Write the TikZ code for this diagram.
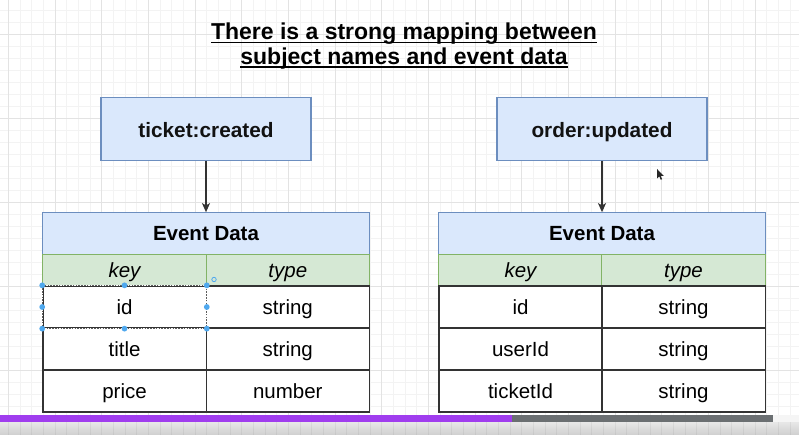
\documentclass[tikz,border=0pt]{standalone}
\usepackage{fontspec}
\setmainfont{Liberation Sans}
\usetikzlibrary{arrows.meta}
\definecolor{bluefill}{HTML}{DAE8FC}
\definecolor{blueline}{HTML}{6C8EBF}
\definecolor{greenfill}{HTML}{D5E8D4}
\definecolor{greenline}{HTML}{82B366}
\definecolor{darkline}{HTML}{333333}
\definecolor{gridminor}{HTML}{F3F3F3}
\definecolor{gridmajor}{HTML}{E3E3E3}
\definecolor{handle}{HTML}{4FA8EE}
\definecolor{barpurple}{HTML}{A03DEE}
\definecolor{bargray}{HTML}{6B6F72}
\definecolor{stripTop}{HTML}{E8E8E8}
\definecolor{stripBot}{HTML}{CFCFCF}
\begin{document}
\begin{tikzpicture}[x=1pt,y=-1pt,
  titletext/.style={inner sep=0pt, font=\fontsize{23}{26}\selectfont\bfseries},
  evbox/.style={draw=blueline, fill=bluefill, line width=1.1pt, minimum width=210pt, minimum height=63pt, inner sep=0pt, text height=16.6pt, text depth=0pt, text=black!93, font=\fontsize{20.8}{24}\selectfont\bfseries},
  hdr/.style={draw=blueline, fill=bluefill, line width=1.1pt, minimum width=326.5pt, minimum height=41.6pt, inner sep=0pt, text height=15pt, text depth=0pt, font=\fontsize{20.5}{24}\selectfont\bfseries},
  colhd/.style={draw=greenline, fill=greenfill, line width=1.1pt, minimum width=163.3pt, minimum height=31.7pt, inner sep=0pt, text height=13.8pt, text depth=0pt, font=\fontsize{20.5}{24}\selectfont\itshape},
  cell/.style={draw=darkline, fill=white, line width=1.3pt, minimum width=163.3pt, minimum height=42pt, inner sep=0pt, text height=14pt, text depth=0pt, font=\fontsize{20.5}{24}\selectfont},
  flow/.style={draw=darkline, line width=1.1pt, -{Stealth[length=9pt,width=8pt,inset=2.2pt]}},
  handledot/.style={fill=handle}
]
\useasboundingbox (0,0) rectangle (799,435);
\fill[white] (0,0) rectangle (799,435);
% grid
\foreach \i in {0,...,68} \draw[gridminor, line width=0.6pt] ({8.33+\i*11.667},0) -- ({8.33+\i*11.667},435);
\foreach \j in {0,...,35} \draw[gridminor, line width=0.6pt] (0,{10+\j*12}) -- (799,{10+\j*12});
\foreach \i in {0,...,17} \draw[gridmajor, line width=0.7pt] ({8.33+\i*46.667},0) -- ({8.33+\i*46.667},435);
\foreach \j in {0,...,5} \draw[gridmajor, line width=0.7pt] (0,{34+\j*84}) -- (799,{34+\j*84});

% title
\node[titletext, anchor=base] (t1) at (404,40) {There is a strong mapping between};
\node[titletext, anchor=base] (t2) at (404,64.5) {subject names and event data};
\draw[line width=1.8pt] ([yshift=-2.6pt]t1.base west) -- ([yshift=-2.6pt]t1.base east);
\draw[line width=1.8pt] ([yshift=-2.6pt]t2.base west) -- ([yshift=-2.6pt]t2.base east);

% subject boxes
\node[evbox] (b1) at (206,128.8) {ticket:created};
\node[evbox] (b2) at (602,128.8) {order:updated};

% left table
\node[hdr] (h1) at (206,233.5) {Event Data};
\node[colhd] (k1) at (124.5,270.15) {key};
\node[colhd] (y1) at (287.8,270.15) {type};
\node[cell] (a1) at (124.5,307) {id};
\node[cell] (a2) at (287.8,307) {string};
\node[cell] (a3) at (124.5,349) {title};
\node[cell] (a4) at (287.8,349) {string};
\node[cell] (a5) at (124.5,391) {price};
\node[cell] (a6) at (287.8,391) {number};

% right table
\node[hdr] (h2) at (602,233.5) {Event Data};
\node[colhd] (k2) at (520.5,270.15) {key};
\node[colhd] (y2) at (683.5,270.15) {type};
\node[cell] (c1) at (520.5,307) {id};
\node[cell] (c2) at (683.5,307) {string};
\node[cell] (c3) at (520.5,349) {userId};
\node[cell] (c4) at (683.5,349) {string};
\node[cell] (c5) at (520.5,391) {ticketId};
\node[cell] (c6) at (683.5,391) {string};

% connectors
\draw[flow] (b1) -- (h1);
\draw[flow] (b2) -- (h2);

% selection of the id cell
\draw[white, line width=1.5pt] (a1.north west) rectangle (a1.south east);
\draw[darkline!80, line width=0.8pt, dash pattern=on 1.6pt off 1.2pt] (a1.north west) rectangle (a1.south east);
\foreach \p in {north west, north, north east, west, east, south west, south, south east}
  \fill[handledot] (a1.\p) circle (2.9pt);
\draw[handle, line width=0.8pt] (214,279.5) circle (2.2pt);

% mouse pointer
\fill[black!85] (657,169) -- (657,178.5) -- (659.3,176.4) -- (660.8,179.8) -- (662.1,179.2) -- (660.7,175.9) -- (663.8,175.9) -- cycle;

% video progress bar and strip
\shade[top color=stripTop, bottom color=stripBot] (0,421.7) rectangle (799,435);
\foreach \i in {0,...,68} \draw[black, opacity=0.05, line width=0.6pt] ({8.33+\i*11.667},421.7) -- ({8.33+\i*11.667},435);
\fill[white!96!black] (773,415) rectangle (799,421.7);
\fill[barpurple] (0,415) rectangle (512,421.7);
\fill[bargray] (512,415) rectangle (773,421.7);
\end{tikzpicture}
\end{document}
